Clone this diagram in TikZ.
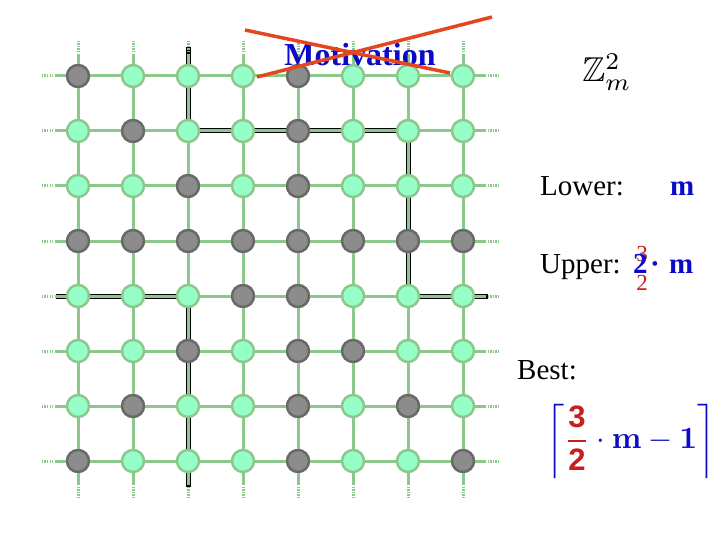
\documentclass[tikz,border=0pt]{standalone}
\usepackage{amsmath,amssymb}
\usepackage{graphicx}
\usepackage[no-math]{fontspec}
\setmainfont{Liberation Serif}
\newfontfamily\sansb{Liberation Sans}
\usetikzlibrary{backgrounds}
\definecolor{edgeg}{RGB}{140,200,140}
\definecolor{lfill}{RGB}{150,255,200}
\definecolor{gfill}{RGB}{140,140,140}
\definecolor{gdraw}{RGB}{105,105,105}
\definecolor{tblue}{RGB}{10,10,200}
\definecolor{xred}{RGB}{230,70,30}
\definecolor{fred}{RGB}{200,30,30}
\tikzset{
  lnode/.style={circle,draw=edgeg,fill=lfill,line width=2.5pt,minimum size=22pt,inner sep=0pt},
  gnode/.style={circle,draw=gdraw,fill=gfill,line width=2.5pt,minimum size=22pt,inner sep=0pt},
  edge/.style={draw=edgeg,line width=3pt},
  stub/.style={draw=edgeg,line width=3pt,dash pattern=on 1.3pt off 1.3pt},
  blackpath/.style={draw=black,line width=5pt,xshift=-1pt,yshift=-1pt},
  cross/.style={draw=xred,line width=3.5pt},
  lbl/.style={anchor=base west,inner sep=0pt,font=\fontsize{29}{34}\selectfont}
}
\begin{document}
\begin{tikzpicture}[x=1pt,y=-1pt]
\useasboundingbox (0,0) rectangle (720,540);
% nodes
\foreach \r/\pat in {0/{1,0,0,0,1,0,0,0},1/{0,1,0,0,1,0,0,0},2/{0,0,1,0,1,0,0,0},3/{1,1,1,1,1,1,1,1},4/{0,0,0,1,1,0,0,0},5/{0,0,1,0,1,1,0,0},6/{0,1,0,0,1,0,1,0},7/{1,0,0,0,1,0,0,1}}{
  \foreach \v [count=\c from 0] in \pat {
    \ifnum\v=1 \def\st{gnode}\else\def\st{lnode}\fi
    \node[\st] (n-\r-\c) at (78+55*\c,76+55*\r) {};
  }
}
% edges
\foreach \r in {0,...,7}{
  \foreach \c [evaluate=\c as \d using int(\c+1)] in {0,...,6}{
    \draw[edge] (n-\r-\c) -- (n-\r-\d);
    \draw[edge] (n-\c-\r) -- (n-\d-\r);
  }
}
% stubs
\foreach \i in {0,...,7}{
  \coordinate (ta\i) at (78+55*\i,55);
  \coordinate (tb\i) at (78+55*\i,41);
  \coordinate (ba\i) at (78+55*\i,484);
  \coordinate (bb\i) at (78+55*\i,498);
  \coordinate (la\i) at (56,76+55*\i);
  \coordinate (lb\i) at (42,76+55*\i);
  \coordinate (ra\i) at (485,76+55*\i);
  \coordinate (rb\i) at (499,76+55*\i);
  \draw[edge] (n-0-\i) -- (ta\i);
  \draw[stub] (ta\i) -- (tb\i);
  \draw[edge] (n-7-\i) -- (ba\i);
  \draw[stub] (ba\i) -- (bb\i);
  \draw[edge] (n-\i-0) -- (la\i);
  \draw[stub] (la\i) -- (lb\i);
  \draw[edge] (n-\i-7) -- (ra\i);
  \draw[stub] (ra\i) -- (rb\i);
}
% black path
\coordinate (ptop) at (188,47);
\coordinate (pbot) at (188,487);
\coordinate (pleft) at (56,296);
\coordinate (pright) at (488,296);
\begin{scope}[on background layer]
  \draw[blackpath] (ptop) -- (n-1-2.center) -- (n-1-6.center) -- (n-4-6.center) -- (pright);
  \draw[blackpath] (pleft) -- (n-4-2.center) -- (pbot);
\end{scope}
% title
\node[text=tblue,font=\fontsize{32}{36}\selectfont\bfseries,inner sep=0pt] (title) at (360,55) {Motivation};
\coordinate (xa1) at (245,30);
\coordinate (xa2) at (450,73);
\coordinate (xb1) at (257,77);
\coordinate (xb2) at (492,17);
\draw[cross] (xa1) -- (xa2);
\draw[cross] (xb1) -- (xb2);
% right side
\node[inner sep=0pt] (zz) at (607,72) {\scalebox{3.45}{$\mathbb{Z}_m^2$}};
\node[lbl] (lower) at (540,196) {Lower:};
\node[lbl,text=tblue] (lowm) at (670,196) {\textbf{m}};
\node[lbl] (upper) at (540,273) {Upper:};
\node[anchor=base,inner sep=0pt,text=fred,font=\fontsize{23}{26}\selectfont] (u3) at (642,261) {3};
\node[anchor=base,inner sep=0pt,text=fred,font=\fontsize{23}{26}\selectfont] (u2) at (642,290) {2};
\node[lbl,text=tblue] (uptwo) at (633,273) {\textbf{2}};
\node[lbl,text=tblue] (updot) at (650,273) {\textbf{·}};
\node[lbl,text=tblue] (upm) at (669,273) {\textbf{m}};
\node[lbl] (best) at (517,379) {Best:};
\node[inner sep=0pt,text=tblue] (ceil) at (631,441)
  {\scalebox{3.1}{$\left\lceil{\color{fred}\dfrac{\text{\sansb\bfseries 3}}{\text{\sansb\bfseries 2}}}\cdot\mathbf{m}-\mathbf{1}\right\rceil$}};
\end{tikzpicture}
\end{document}
